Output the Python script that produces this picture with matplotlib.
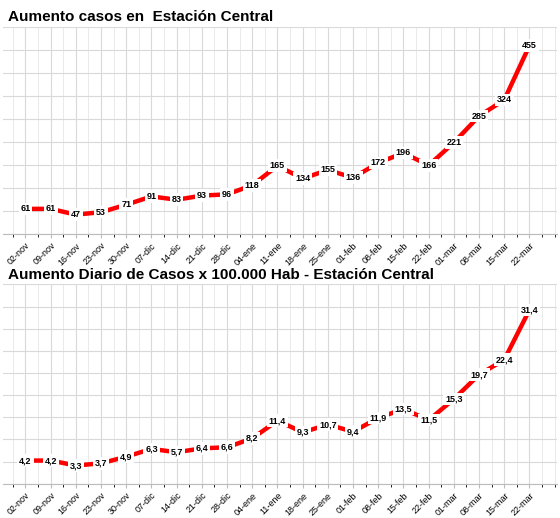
import matplotlib.pyplot as plt
import numpy as np
from matplotlib.ticker import MultipleLocator

dates = ["02-nov","09-nov","16-nov","23-nov","30-nov","07-dic","14-dic","21-dic","28-dic","04-ene",
         "11-ene","18-ene","25-ene","01-feb","08-feb","15-feb","22-feb","01-mar","08-mar","15-mar","22-mar"]
casos = [61,61,47,53,71,91,83,93,96,118,165,134,155,136,172,196,166,221,285,324,455]
tasa = [4.2,4.2,3.3,3.7,4.9,6.3,5.7,6.4,6.6,8.2,11.4,9.3,10.7,9.4,11.9,13.5,11.5,15.3,19.7,22.4,31.4]

plt.rcParams['font.family'] = ['Liberation Sans', 'DejaVu Sans']
fig = plt.figure(figsize=(5.6, 5.18), dpi=100)
ax1 = fig.add_axes([0.005, 0.548, 0.99, 0.40])
ax2 = fig.add_axes([0.005, 0.066, 0.99, 0.385])

def draw(ax, vals, labels, ymax, title):
    x = np.arange(len(vals))
    ax.plot(x, vals, color='#ff0000', lw=3.2, solid_capstyle='butt', zorder=2)
    for xi, v, l in zip(x, vals, labels):
        ax.text(xi, v, l, ha='center', va='center', fontsize=6.5, fontweight='bold',
                bbox=dict(boxstyle='square,pad=0.2', fc='white', ec='none'), zorder=3)
    ax.set_xlim(-0.9, len(vals)+0.1)
    ax.set_ylim(0, ymax)
    ax.set_xticks(x)
    ax.set_xticklabels(dates, rotation=45, ha='right', rotation_mode='anchor', fontsize=6.5)
    ax.xaxis.set_minor_locator(MultipleLocator(0.5))
    ax.yaxis.set_major_locator(MultipleLocator(ymax/9))
    ax.set_yticklabels([])
    ax.tick_params(axis='y', length=0)
    ax.tick_params(axis='x', length=3, color='#bbbbbb', pad=2)
    ax.grid(True, which='major', color='#d9d9d9', lw=0.8)
    ax.grid(True, which='minor', axis='x', color='#e6e6e6', lw=0.6)
    for s in ['top', 'right', 'left']:
        ax.spines[s].set_visible(False)
    ax.spines['bottom'].set_color('#bbbbbb')
    ax.set_title(title, loc='left', fontsize=11, fontweight='bold', pad=4, x=0.01)

draw(ax1, casos, [str(v) for v in casos], 500, "Aumento casos en  Estación Central")
draw(ax2, tasa, [f"{v:.1f}".replace('.', ',') for v in tasa], 36, "Aumento Diario de Casos x 100.000 Hab - Estación Central")
fig.savefig("out.png", dpi=100)
